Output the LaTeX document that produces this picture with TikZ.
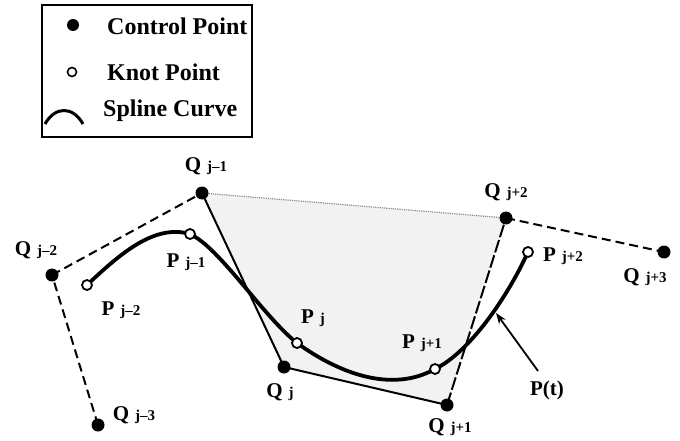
\documentclass[tikz,border=0pt]{standalone}
\usepackage{fontspec}
\setmainfont{Liberation Serif}
\usetikzlibrary{calc,arrows.meta}
\newcommand\sublab[2]{#1\hspace{6pt}{\fontsize{15}{15}\selectfont #2}}
\begin{document}
\begin{tikzpicture}[x=1pt,y=-1pt,
  ctrl/.style={circle,fill=black,inner sep=0pt,minimum size=13pt},
  knot/.style={circle,draw=black,fill=white,line width=1.8pt,inner sep=0pt,minimum size=10pt},
  lab/.style={font=\fontsize{21}{21}\selectfont\bfseries,inner sep=0pt},
  legtext/.style={font=\fontsize{24}{24}\selectfont\bfseries,anchor=west,inner sep=0pt},
  dashline/.style={line width=2pt,dash pattern=on 9pt off 5pt},
  longdash/.style={line width=2pt,dash pattern=on 13pt off 3pt},
  solidline/.style={line width=2pt},
  spline/.style={line width=3.8pt},
  hull/.style={draw=black!45,line width=1.2pt,densely dotted}]
\useasboundingbox (0,0) rectangle (680,441);
% control points
\coordinate (Qm3) at (98,425);
\coordinate (Qm2) at (52,275);
\coordinate (Qm1) at (202,193);
\coordinate (Q0) at (284,367);
\coordinate (Qp1) at (447,405);
\coordinate (Qp2) at (506,218);
\coordinate (Qp3) at (664,252);
% knot points
\coordinate (Pm2) at (87,285);
\coordinate (Pm1) at (190,234);
\coordinate (P0) at (297,343);
\coordinate (Pp1) at (435,369);
\coordinate (Pp2) at (528,252);
% shaded hull
\fill[black!5] (Qm1) -- (Q0) -- (Qp1) -- (Qp2) -- cycle;
\draw[hull] (Qm1) -- (Qp2);
% polygon
\draw[dashline] (Qm3) -- (Qm2);
\draw[dashline] (Qm2) -- (Qm1);
\draw[solidline] (Qm1) -- (Q0);
\draw[solidline] (Q0) -- (Qp1);
\draw[longdash] (Qp1) -- (Qp2);
\draw[dashline] (Qp2) -- (Qp3);
% spline
\draw[spline] (Pm2) .. controls (122,252) and (155,224) .. (Pm1)
  .. controls (220,248) and (262,315) .. (P0)
  .. controls (340,374) and (392,393) .. (Pp1)
  .. controls (470,352) and (508,296) .. (Pp2);
% nodes
\node[ctrl] (qm3) at (Qm3) {};
\node[ctrl] (qm2) at (Qm2) {};
\node[ctrl] (qm1) at (Qm1) {};
\node[ctrl] (q0) at (Q0) {};
\node[ctrl] (qp1) at (Qp1) {};
\node[ctrl] (qp2) at (Qp2) {};
\node[ctrl] (qp3) at (Qp3) {};
\node[knot] (pm2) at (Pm2) {};
\node[knot] (pm1) at (Pm1) {};
\node[knot] (p0) at (P0) {};
\node[knot] (pp1) at (Pp1) {};
\node[knot] (pp2) at (Pp2) {};
% labels
\node[lab] (lqm1) at (206,166) {\sublab{Q}{j–1}};
\node[lab] (lqm2) at (36,250) {\sublab{Q}{j–2}};
\node[lab] (lpm1) at (186,262) {\sublab{P}{j–1}};
\node[lab] (lpm2) at (121,310) {\sublab{P}{j–2}};
\node[lab] (lp0) at (313,318) {\sublab{P}{j}};
\node[lab] (lq0) at (280,392) {\sublab{Q}{j}};
\node[lab] (lqm3) at (134,415) {\sublab{Q}{j–3}};
\node[lab] (lqp2) at (506,192) {\sublab{Q}{j+2}};
\node[lab] (lpp2) at (563,256) {\sublab{P}{j+2}};
\node[lab] (lqp3) at (645,277) {\sublab{Q}{j+3}};
\node[lab] (lpp1) at (422,343) {\sublab{P}{j+1}};
\node[lab] (lqp1) at (450,427) {\sublab{Q}{j+1}};
\node[lab] (lpt) at (547,390) {P(t)};
% arrow to curve
\coordinate (ptail) at (538,371);
\coordinate (ptip) at (496,313);
\draw[line width=1.8pt,-{Stealth[length=11pt,width=8pt]}] (ptail) -- (ptip);
% legend
\draw[line width=2pt] (42,5) rectangle (252,137);
\node[ctrl,minimum size=12pt] (lc) at (73,25) {};
\node[legtext] (lct) at (107,26) {Control Point};
\node[knot,minimum size=9pt,line width=1.6pt] (lk) at (72,72) {};
\node[legtext] (lkt) at (107,72) {Knot Point};
\draw[line width=3pt] (45,124) .. controls (55,106) and (73,106) .. (83,124);
\node[legtext] (lst) at (103,111) {Spline Curve};
\end{tikzpicture}
\end{document}
